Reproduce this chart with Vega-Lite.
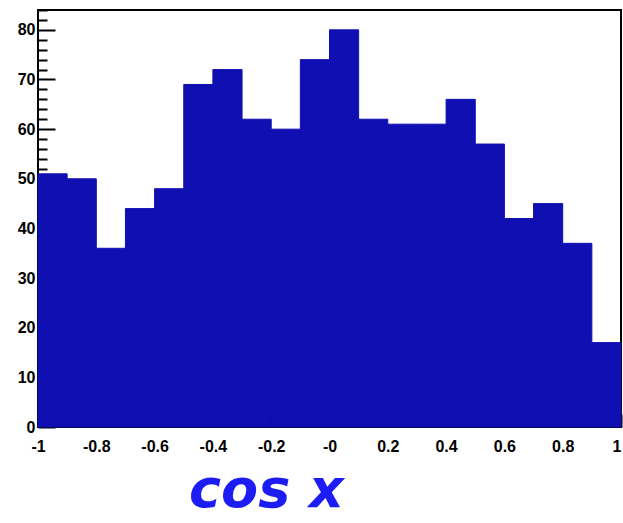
{
  "$schema": "https://vega.github.io/schema/vega-lite/v6.json",
  "autosize": "none",
  "width": 583,
  "height": 417,
  "padding": {"left": 38, "top": 10, "right": 2, "bottom": 96},
  "background": "white",
  "config": {
    "view": {"stroke": "black", "strokeWidth": 2},
    "bar": {"binSpacing": 0, "continuousBandSize": 1},
    "axis": {
      "zindex": 1,
      "domain": false,
      "grid": false,
      "tickColor": "black",
      "tickWidth": 2,
      "labelFont": "Liberation Sans",
      "labelFontWeight": "bold",
      "labelFontSize": 16,
      "labelColor": "black"
    }
  },
  "data": {
    "values": [
      {"lo": -1.0, "hi": -0.9, "count": 51},
      {"lo": -0.9, "hi": -0.8, "count": 50},
      {"lo": -0.8, "hi": -0.7, "count": 36},
      {"lo": -0.7, "hi": -0.6, "count": 44},
      {"lo": -0.6, "hi": -0.5, "count": 48},
      {"lo": -0.5, "hi": -0.4, "count": 69},
      {"lo": -0.4, "hi": -0.3, "count": 72},
      {"lo": -0.3, "hi": -0.2, "count": 62},
      {"lo": -0.2, "hi": -0.1, "count": 60},
      {"lo": -0.1, "hi": 0.0, "count": 74},
      {"lo": 0.0, "hi": 0.1, "count": 80},
      {"lo": 0.1, "hi": 0.2, "count": 62},
      {"lo": 0.2, "hi": 0.3, "count": 61},
      {"lo": 0.3, "hi": 0.4, "count": 61},
      {"lo": 0.4, "hi": 0.5, "count": 66},
      {"lo": 0.5, "hi": 0.6, "count": 57},
      {"lo": 0.6, "hi": 0.7, "count": 42},
      {"lo": 0.7, "hi": 0.8, "count": 45},
      {"lo": 0.8, "hi": 0.9, "count": 37},
      {"lo": 0.9, "hi": 1.0, "count": 17}
    ]
  },
  "mark": {
    "type": "bar",
    "orient": "vertical",
    "fill": "#0f0fb2",
    "stroke": "#0f0fb2",
    "strokeWidth": 1
  },
  "encoding": {
    "x": {
      "field": "lo",
      "type": "quantitative",
      "scale": {"domain": [-1, 1], "nice": false, "zero": false, "padding": 0},
      "axis": {
        "values": [-1, -0.96, -0.92, -0.88, -0.84, -0.8, -0.76, -0.72, -0.68, -0.64, -0.6, -0.56, -0.52, -0.48, -0.44, -0.4, -0.36, -0.32, -0.28, -0.24, -0.2, -0.16, -0.12, -0.08, -0.04, 0, 0.04, 0.08, 0.12, 0.16, 0.2, 0.24, 0.28, 0.32, 0.36, 0.4, 0.44, 0.48, 0.52, 0.56, 0.6, 0.64, 0.68, 0.72, 0.76, 0.8, 0.84, 0.88, 0.92, 0.96, 1],
        "labelExpr": "abs(datum.value * 5 - round(datum.value * 5)) > 0.001 ? '' : (abs(datum.value) < 0.001 ? '-0' : (datum.value < 0 ? '-' + format(-datum.value, '.1~f') : format(datum.value, '.1~f')))",
        "tickSize": {"condition": {"test": "abs(datum.value * 5 - round(datum.value * 5)) < 0.001", "value": -13}, "value": -7},
        "labelAlign": {"condition": {"test": "datum.value > 0.999", "value": "right"}, "value": "center"},
        "labelPadding": 24,
        "labelFlush": false,
        "labelOverlap": false,
        "title": "cos x",
        "titleFont": "DejaVu Sans",
        "titleFontWeight": "bold",
        "titleFontStyle": "italic",
        "titleFontSize": 54,
        "titleColor": "#1c1cf5",
        "titleX": 228,
        "titleY": 63,
        "titleAlign": "center",
        "titleBaseline": "middle"
      }
    },
    "x2": {"field": "hi"},
    "y": {
      "field": "count",
      "type": "quantitative",
      "scale": {"domain": [0, 84], "nice": false, "padding": 0},
      "axis": {
        "values": [0, 2, 4, 6, 8, 10, 12, 14, 16, 18, 20, 22, 24, 26, 28, 30, 32, 34, 36, 38, 40, 42, 44, 46, 48, 50, 52, 54, 56, 58, 60, 62, 64, 66, 68, 70, 72, 74, 76, 78, 80, 82, 84],
        "labelExpr": "datum.value % 10 === 0 ? format(datum.value, 'd') : ''",
        "tickSize": {"condition": {"test": "datum.value % 10 === 0", "value": -17}, "value": -9},
        "labelPadding": 20,
        "labelFlush": false,
        "labelOverlap": false,
        "title": null
      }
    },
    "y2": {"datum": 0}
  }
}
